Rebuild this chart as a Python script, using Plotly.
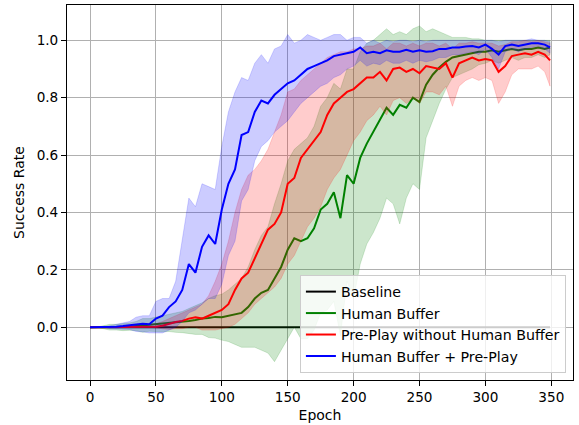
import plotly.graph_objects as go

EPOCHS = list(range(0, 350, 5)) + [349]

BASELINE = [0.0] * len(EPOCHS)

HB_MEAN = [0, 0, 0, 0, 0, 0, 0.002, 0.004, 0.006, 0.008, 0.01, 0.012, 0.015, 0.016, 0.018, 0.022,
           0.025, 0.03, 0.032, 0.036, 0.035, 0.04, 0.045, 0.05, 0.07, 0.1, 0.12, 0.13, 0.17, 0.21,
           0.27, 0.31, 0.3, 0.31, 0.345, 0.41, 0.43, 0.47, 0.38, 0.53, 0.5, 0.59, 0.64, 0.68, 0.72,
           0.765, 0.74, 0.775, 0.765, 0.8, 0.785, 0.845, 0.88, 0.905, 0.925, 0.94, 0.945, 0.95,
           0.955, 0.96, 0.96, 0.965, 0.96, 0.965, 0.97, 0.965, 0.97, 0.97, 0.975, 0.97, 0.975]
HB_UPPER = [0, 0, 0.005, 0.01, 0.01, 0.012, 0.015, 0.02, 0.03, 0.03, 0.035, 0.04, 0.045, 0.05, 0.055,
            0.065, 0.075, 0.085, 0.1, 0.11, 0.115, 0.13, 0.15, 0.17, 0.21, 0.27, 0.32, 0.35, 0.43,
            0.5, 0.58, 0.62, 0.64, 0.66, 0.7, 0.77, 0.8, 0.85, 0.83, 0.9, 0.9, 0.96, 0.99, 1.0, 1.02,
            1.04, 1.02, 1.03, 1.02, 1.04, 1.05, 1.03, 1.04, 1.03, 1.02, 1.01, 1.01, 1.01, 1.005,
            1.005, 1.0, 1.0, 1.0, 1.0, 1.0, 1.0, 1.0, 1.0, 1.0, 1.0, 1.0]
HB_LOWER = [0, 0, -0.005, -0.01, -0.01, -0.012, -0.011, -0.012, -0.018, -0.014, -0.015, -0.016,
            -0.015, -0.018, -0.019, -0.021, -0.025, -0.025, -0.036, -0.038, -0.045, -0.05, -0.06,
            -0.07, -0.07, -0.07, -0.08, -0.09, -0.12, -0.08, -0.04, 0.0, -0.04, -0.04, -0.01, 0.05,
            0.06, 0.09, -0.03, 0.16, 0.1, 0.22, 0.29, 0.33, 0.38, 0.45, 0.43, 0.36, 0.45, 0.5, 0.48,
            0.66, 0.72, 0.78, 0.83, 0.87, 0.88, 0.89, 0.9, 0.915, 0.92, 0.93, 0.92, 0.93, 0.94,
            0.93, 0.94, 0.94, 0.95, 0.94, 0.95]

PP_MEAN = [0, 0, 0, 0, 0, 0, 0, 0, 0, 0.001, 0.002, 0.005, 0.012, 0.018, 0.022, 0.03, 0.035, 0.03,
           0.04, 0.05, 0.06, 0.08, 0.13, 0.17, 0.19, 0.24, 0.29, 0.34, 0.36, 0.4, 0.5, 0.52, 0.59,
           0.62, 0.65, 0.68, 0.74, 0.78, 0.8, 0.82, 0.83, 0.85, 0.87, 0.87, 0.89, 0.86, 0.9, 0.905,
           0.89, 0.9, 0.885, 0.91, 0.905, 0.9, 0.92, 0.87, 0.92, 0.93, 0.94, 0.93, 0.935, 0.93,
           0.89, 0.91, 0.945, 0.95, 0.955, 0.95, 0.96, 0.95, 0.93]
PP_UPPER = [0, 0, 0, 0, 0, 0.002, 0.003, 0.005, 0.008, 0.01, 0.012, 0.02, 0.03, 0.04, 0.05, 0.06,
            0.07, 0.08, 0.11, 0.16, 0.22, 0.3, 0.4, 0.48, 0.53, 0.55, 0.58, 0.62, 0.68, 0.74, 0.82,
            0.83, 0.86, 0.88, 0.9, 0.92, 0.94, 0.95, 0.96, 0.96, 0.97, 0.97, 0.98, 0.98, 0.99, 0.97,
            0.99, 0.99, 0.98, 0.99, 0.98, 0.99, 0.99, 0.98, 0.99, 0.97, 0.99, 0.99, 0.995, 0.99,
            0.99, 0.99, 0.98, 0.985, 0.995, 0.995, 1.0, 0.995, 1.0, 0.995, 0.99]
PP_LOWER = [0, 0, 0, 0, 0, 0, 0, 0, 0, 0, -0.003, -0.005, -0.008, -0.005, -0.005, 0.0, 0.0, -0.01,
            -0.01, -0.01, -0.005, 0.0, 0.01, 0.03, 0.05, 0.08, 0.1, 0.12, 0.14, 0.17, 0.22, 0.25,
            0.3, 0.35, 0.38, 0.42, 0.48, 0.52, 0.55, 0.6, 0.65, 0.68, 0.72, 0.74, 0.77, 0.74, 0.79,
            0.8, 0.78, 0.8, 0.78, 0.82, 0.82, 0.81, 0.84, 0.77, 0.84, 0.86, 0.87, 0.86, 0.87, 0.86,
            0.78, 0.82, 0.88, 0.9, 0.9, 0.9, 0.91, 0.89, 0.84]

HBPP_MEAN = [0, 0, 0, 0, 0.002, 0.004, 0.006, 0.01, 0.012, 0.01, 0.03, 0.04, 0.07, 0.09, 0.13, 0.22,
             0.19, 0.28, 0.32, 0.29, 0.41, 0.5, 0.55, 0.67, 0.68, 0.75, 0.79, 0.78, 0.81, 0.83,
             0.85, 0.86, 0.88, 0.9, 0.91, 0.92, 0.93, 0.945, 0.95, 0.955, 0.96, 0.975, 0.955, 0.96,
             0.955, 0.965, 0.96, 0.96, 0.967, 0.96, 0.965, 0.96, 0.962, 0.97, 0.97, 0.975, 0.975,
             0.978, 0.98, 0.975, 0.985, 0.97, 0.95, 0.98, 0.985, 0.98, 0.985, 0.99, 0.99, 0.985,
             0.975]
HBPP_UPPER = [0, 0, 0, 0.005, 0.01, 0.015, 0.02, 0.035, 0.04, 0.04, 0.09, 0.1, 0.1, 0.16, 0.3,
              0.45, 0.42, 0.5, 0.49, 0.48, 0.63, 0.75, 0.82, 0.87, 0.86, 0.92, 0.95, 0.92, 0.97,
              0.98, 1.02, 0.99, 1.0, 1.02, 1.01, 1.0, 1.01, 1.02, 1.02, 1.0, 1.01, 1.01, 0.99, 1.0,
              0.99, 1.0, 0.995, 1.0, 1.0, 0.995, 1.0, 0.995, 1.0, 1.0, 1.0, 1.0, 1.0, 1.0, 1.0, 1.0,
              1.0, 1.0, 0.995, 1.0, 1.0, 1.0, 1.0, 1.005, 1.0, 1.0, 0.995]
HBPP_LOWER = [0, 0, 0, -0.005, -0.006, -0.007, -0.008, -0.015, -0.016, -0.02, -0.02, -0.02, -0.01,
              0.0, 0.02, 0.05, 0.06, 0.08, 0.1, 0.1, 0.15, 0.25, 0.3, 0.44, 0.48, 0.58, 0.63, 0.65,
              0.68, 0.7, 0.72, 0.75, 0.78, 0.8, 0.82, 0.84, 0.85, 0.87, 0.88, 0.9, 0.91, 0.93, 0.91,
              0.92, 0.915, 0.93, 0.92, 0.92, 0.93, 0.92, 0.93, 0.925, 0.93, 0.94, 0.94, 0.95, 0.95,
              0.955, 0.96, 0.95, 0.97, 0.94, 0.9, 0.96, 0.97, 0.96, 0.97, 0.975, 0.98, 0.97, 0.955]

SERIES = [
    ("Baseline", BASELINE, None, None, "black", None),
    ("Human Buffer", HB_MEAN, HB_UPPER, HB_LOWER, "green", "rgba(0,128,0,0.2)"),
    ("Pre-Play without Human Buffer", PP_MEAN, PP_UPPER, PP_LOWER, "red", "rgba(255,0,0,0.2)"),
    ("Human Buffer + Pre-Play", HBPP_MEAN, HBPP_UPPER, HBPP_LOWER, "blue", "rgba(0,0,255,0.2)"),
]

X_TICKS = [0, 50, 100, 150, 200, 250, 300, 350]
Y_TICKS = [0.0, 0.2, 0.4, 0.6, 0.8, 1.0]

fig = go.Figure()
for name, mean, up, lo, color, fill in SERIES:
    if up is not None:
        fig.add_trace(go.Scatter(
            x=EPOCHS + EPOCHS[::-1], y=up + lo[::-1], fill="toself", fillcolor=fill,
            line=dict(color=fill, width=0.8), mode="lines", showlegend=False, hoverinfo="skip"))
    fig.add_trace(go.Scatter(x=EPOCHS, y=mean, mode="lines", name=name,
                             line=dict(color=color, width=2)))

tick_font = dict(family="DejaVu Sans", size=13.6, color="black")
title_font = dict(family="DejaVu Sans", size=14, color="black")
fig.update_layout(
    width=579, height=425, margin=dict(l=67, r=6, t=5, b=45),
    plot_bgcolor="white", paper_bgcolor="white", font=title_font,
    legend=dict(x=0.986, y=0.019, xanchor="right", yanchor="bottom",
                bgcolor="rgba(255,255,255,0.8)", bordercolor="#cccccc", borderwidth=1,
                itemwidth=30, font=dict(family="DejaVu Sans", size=14.2, color="black")),
)
axis_common = dict(showgrid=True, gridcolor="#b0b0b0", gridwidth=1, zeroline=False,
                   showline=True, linecolor="black", linewidth=1, mirror=True,
                   ticks="outside", ticklen=5, tickcolor="black", tickfont=tick_font)
fig.update_xaxes(range=[-17.45, 366.45], tickvals=X_TICKS,
                 title=dict(text="Epoch", font=title_font, standoff=5), **axis_common)
fig.update_yaxes(range=[-0.184, 1.123], tickvals=Y_TICKS, tickformat=".1f",
                 title=dict(text="Success Rate", font=title_font, standoff=8), **axis_common)

fig.write_html("out.html")
